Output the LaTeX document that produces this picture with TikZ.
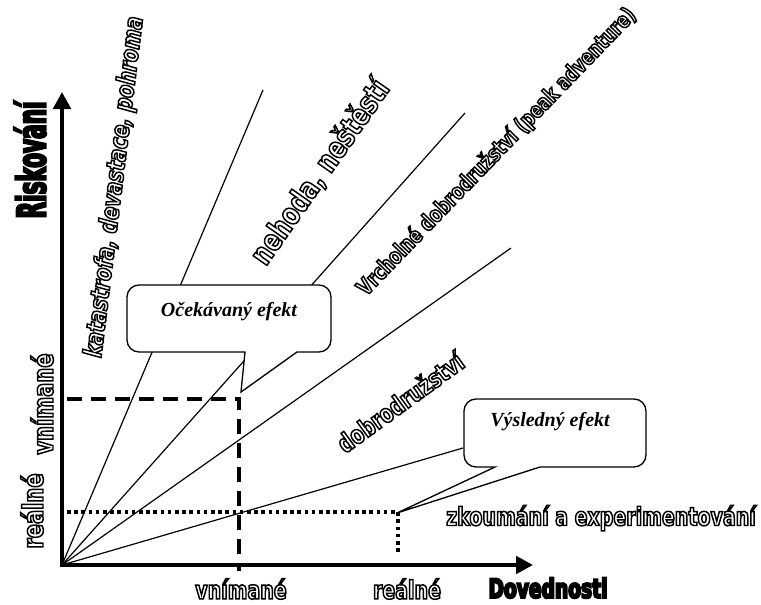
\documentclass[tikz,border=0pt]{standalone}
\usepackage{fontspec}
\setmainfont{Liberation Serif}
\newfontfamily\impact{DejaVu Sans}[FakeStretch=0.75]
\newfontfamily\impactnarrow{DejaVu Sans}[FakeStretch=0.7]
\newfontfamily\impactcond{DejaVu Sans}[FakeStretch=0.54]
\usepackage{tikz}
\usetikzlibrary{arrows.meta}
\tikzset{axis/.style={line width=3pt},
  ray/.style={line width=0.9pt},
  callout/.style={draw,fill=white,line width=1pt},
  tag/.style={font=\bfseries\itshape\fontsize{15}{16}\selectfont},
  hollow/.style={inner sep=0pt,font=\impact\bfseries\fontsize{#1}{#1}\selectfont,
    execute at begin node={\special{pdf:literal direct 1 Tr 1.1 w}},
    execute at end node={\special{pdf:literal direct 0 Tr}}},
  hollow/.default=19,
  heavy/.style={inner sep=0pt,
    execute at begin node={\special{pdf:literal direct 2 Tr 1.4 w}},
    execute at end node={\special{pdf:literal direct 0 Tr}}}}

\begin{document}
\begin{tikzpicture}[x=0.75pt,y=-0.75pt,>={Triangle[length=12.75pt,width=13pt]}]
    \useasboundingbox (0,0) rectangle (761,604);

    \coordinate (o) at (62,565);
    \coordinate (ytop) at (62,92);
    \coordinate (xend) at (533,565);
    \coordinate (r1) at (263,90);
    \coordinate (r2) at (465,113);
    \coordinate (r3) at (511,248);
    \coordinate (r4) at (463,448);

    \draw [ray] (o) -- (r1);
    \draw [ray] (o) -- (r2);
    \draw [ray] (o) -- (r3);
    \draw [ray] (o) -- (r4);

    % perceived and real levels
    \coordinate (pa) at (67,399);
    \coordinate (pb) at (239,399);
    \coordinate (pc) at (239,571);
    \draw [line width=2.4pt,dash pattern=on 11pt off 7pt] (pa) -- (pb) -- (pc);
    \coordinate (ra) at (67,512);
    \coordinate (rb) at (398,512);
    \coordinate (rc) at (398,553);
    \draw [line width=2.4pt,line cap=butt,dash pattern=on 2.7pt off 2.7pt] (ra) -- (rb) -- (rc);

    \draw [axis,<->] (ytop) -- (o) -- (xend);

    \draw [callout,rounded corners=9pt] (297,352) -- (331,352) -- (331,285) -- (127,285) -- (127,352) [sharp corners] -- (245,352) -- (241,392) -- cycle;
    \node[tag] (expect) at (229,312) {Očekávaný efekt};
    \draw [callout,rounded corners=9pt] (540,467) -- (646,467) -- (646,399) -- (464,399) -- (464,467) [sharp corners] -- (495,467) -- (397,513) -- cycle;
    \node[tag] (result) at (550,422) {Výsledný efekt};

    \node[hollow,rotate=83] (kat) at (115,187) {\itshape katastrofa, devastace, pohroma};
    \node[hollow=23,rotate=55] (neh) at (320,172) {nehoda, neštěstí};
    \node[hollow=16.7,rotate=46,anchor=base west] (peak) at (366,297) {Vrcholné dobrodružství (peak adventure)};
    \node[hollow,rotate=36] (adv) at (400,402) {dobrodružství};
    \node[hollow] (expl) at (601,518) {zkoumání a experimentování};

    \node[hollow=21,rotate=90] (yreal) at (32,511) {reálné};
    \node[hollow=21,rotate=90] (yperc) at (42,404) {vnímané};
    \node[hollow] (xperc) at (241,589) {vnímané};
    \node[hollow] (xreal) at (407,589) {reálné};
    \node[heavy,rotate=90,font=\impactcond\bfseries\fontsize{30}{30}\selectfont] (risk) at (30,160) {Riskování};
    \node[heavy,font=\impactnarrow\bfseries\fontsize{20}{20}\selectfont] (skill) at (548,588) {Dovednosti};
\end{tikzpicture}
\end{document}
